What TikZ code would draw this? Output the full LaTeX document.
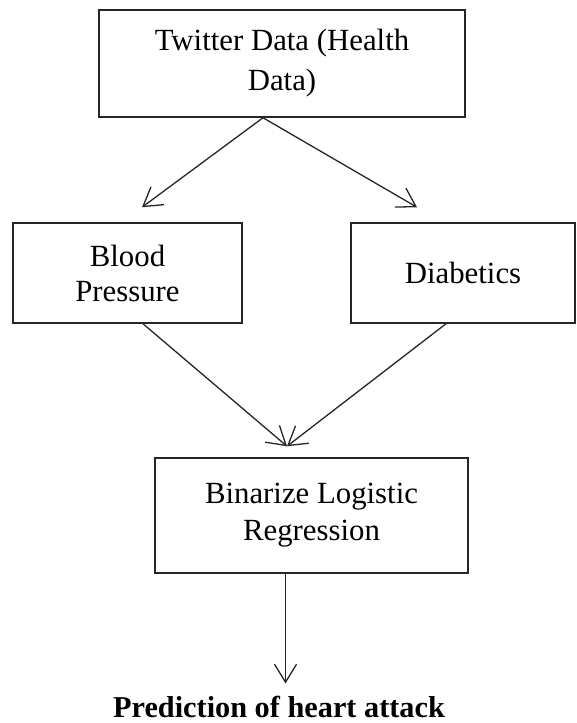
\documentclass[tikz,border=0pt]{standalone}
\usepackage{fontspec}
\setmainfont{Liberation Serif}
\usetikzlibrary{arrows.meta,calc}
\begin{document}
\begin{tikzpicture}[x=1pt,y=-1pt,
  box/.style={draw=black!85, line width=1.5pt, inner sep=0pt, align=center,
    font=\fontsize{30.8}{37}\selectfont},
  conn/.style={draw=black!85, line width=1.3pt,
    -{Straight Barb[length=18pt,width=22pt,line width=1.3pt]}}]
\useasboundingbox (0,0) rectangle (576,723);
\fill[white] (0,0) rectangle (576,723);

\node[box, minimum width=366pt, minimum height=107pt, font=\fontsize{30.8}{40}\selectfont] (top) at (282,63.5) {Twitter Data (Health\\Data)};
\node[box, minimum width=229pt, minimum height=100pt, font=\fontsize{30.8}{35}\selectfont] (left) at (127.5,273) {Blood\\Pressure};
\node[box, minimum width=224pt, minimum height=100pt] (right) at (463,273) {Diabetics};
\node[box, minimum width=313pt, minimum height=115pt] (bottom) at (311.5,515.5) {Binarize Logistic\\Regression};
\node[inner sep=0pt, anchor=base, font=\fontsize{30.3}{36}\selectfont\bfseries] (pred) at (279,717) {Prediction of heart attack};

\coordinate (tS) at ($(top.south)+(-19,0)$);
\coordinate (lT) at ($(left.north)+(14.5,-15)$);
\coordinate (rT) at ($(right.north)+(-46,-15)$);
\coordinate (lS) at ($(left.south)+(15.5,0)$);
\coordinate (rS) at ($(right.south)+(-17,0)$);
\coordinate (mT) at ($(bottom.north)+(-24.5,-11)$);
\coordinate (bS) at ($(bottom.south)+(-26,0)$);
\coordinate (pT) at ($(bS |- pred.north)+(0,-12)$);

\draw[conn] (tS) -- (lT);
\draw[conn] (tS) -- (rT);
\draw[conn] (lS) -- (mT);
\draw[conn] (rS) -- (mT);
\draw[conn] (bS) -- (pT);
\end{tikzpicture}
\end{document}
